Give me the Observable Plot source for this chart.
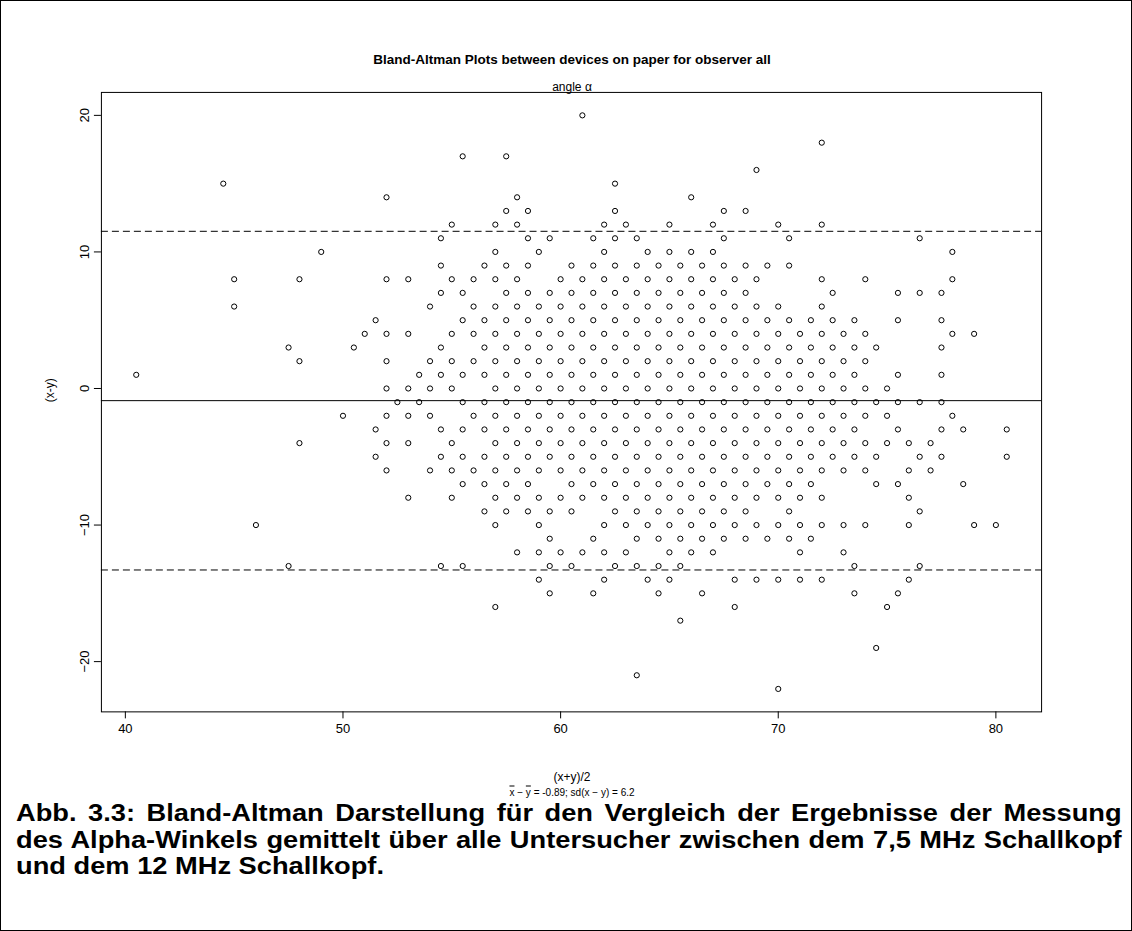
<!DOCTYPE html>
<html><head><meta charset="utf-8">
<script src="https://cdn.jsdelivr.net/npm/d3@7"></script>
<script src="https://cdn.jsdelivr.net/npm/@observablehq/plot@0.6"></script>
<style>
html,body{margin:0;padding:0;background:#fff;}
#page{position:relative;width:1132px;height:931px;box-sizing:border-box;border:1px solid #000;overflow:hidden;font-family:"Liberation Sans",Arial,sans-serif;color:#000;background:#fff;}
#chart{position:absolute;left:-1px;top:-1px;}
.t{position:absolute;white-space:nowrap;transform:translate(-50%,-50%);}
.cap{position:absolute;left:15px;width:933px;font-weight:bold;font-size:23px;line-height:26px;white-space:nowrap;transform:scaleX(1.185);transform-origin:0 0;}
.just{text-align:justify;text-align-last:justify;}
</style></head><body>
<div id="page">
 <div id="chart"></div>
 <div class="t" style="left:571px;top:58px;font-weight:bold;font-size:13.5px;">Bland-Altman Plots between devices on paper for observer all</div>
 <div class="t" style="left:571px;top:86px;font-size:12px;">angle &alpha;</div>
 <div class="t" style="left:571px;top:776px;font-size:12px;">(x+y)/2</div>
 <div class="t" style="left:571px;top:791px;font-size:10px;"><span style="text-decoration:overline">x</span> &minus; <span style="text-decoration:overline">y</span> = -0.89; sd(x &minus; y) = 6.2</div>
 <div class="cap just" style="top:799px;">Abb. 3.3: Bland-Altman Darstellung für den Vergleich der Ergebnisse der Messung</div>
 <div class="cap just" style="top:825.5px;">des Alpha-Winkels gemittelt über alle Untersucher zwischen dem 7,5 MHz Schallkopf</div>
 <div class="cap" style="top:852px;">und dem 12 MHz Schallkopf.</div>
</div>
<script>
// differences (x - y), one entry per row of points
const rowDiff = [20, 18, 17, 16, 15, 14, 13, 12, 11, 10, 9, 8, 7, 6, 5, 4, 3, 2, 1, 0,
  -1, -2, -3, -4, -5, -6, -7, -8, -9, -10, -11, -12, -13, -14, -15, -16, -17, -19, -21, -22];
// means (x + y)/2 of the points in each row
const rowMeans = [
  [61],
  [72],
  [55.5, 57.5],
  [69],
  [44.5, 62.5],
  [52, 58, 66],
  [57.5, 58.5, 62.5, 67.5, 68.5],
  [55, 57, 58, 62, 63, 65, 67, 70, 72],
  [54.5, 58.5, 59.5, 61.5, 62.5, 63.5, 67.5, 70.5, 76.5],
  [49, 57, 59, 62, 64, 65, 66, 67, 78],
  [54.5, 56.5, 57.5, 58.5, 60.5, 61.5, 62.5, 63.5, 64.5, 65.5, 66.5, 67.5, 68.5, 69.5, 70.5],
  [45, 48, 52, 53, 55, 56, 57, 58, 60, 61, 62, 63, 64, 65, 66, 67, 68, 69, 72, 74, 78],
  [54.5, 55.5, 57.5, 58.5, 59.5, 60.5, 61.5, 62.5, 63.5, 64.5, 65.5, 66.5, 67.5, 68.5, 72.5, 75.5, 76.5, 77.5],
  [45, 54, 56, 57, 58, 59, 60, 61, 62, 63, 64, 65, 66, 67, 68, 69, 70, 72],
  [51.5, 55.5, 56.5, 57.5, 58.5, 59.5, 60.5, 61.5, 62.5, 63.5, 64.5, 65.5, 66.5, 67.5, 68.5, 69.5, 70.5, 71.5, 72.5, 73.5, 75.5, 77.5],
  [51, 52, 53, 55, 56, 57, 58, 59, 60, 61, 62, 63, 64, 65, 66, 67, 68, 69, 70, 71, 72, 73, 74, 78, 79],
  [47.5, 50.5, 54.5, 56.5, 57.5, 58.5, 59.5, 60.5, 61.5, 62.5, 63.5, 64.5, 65.5, 66.5, 67.5, 68.5, 69.5, 70.5, 71.5, 72.5, 73.5, 74.5, 77.5],
  [48, 52, 54, 55, 56, 57, 58, 59, 60, 61, 62, 63, 64, 65, 66, 67, 68, 69, 70, 71, 72, 73, 74],
  [40.5, 53.5, 54.5, 55.5, 56.5, 57.5, 58.5, 59.5, 60.5, 61.5, 62.5, 63.5, 64.5, 65.5, 66.5, 67.5, 68.5, 69.5, 70.5, 71.5, 72.5, 73.5, 75.5, 77.5],
  [52, 53, 54, 55, 57, 58, 59, 60, 61, 62, 63, 64, 65, 66, 67, 68, 69, 70, 71, 72, 73, 74, 75],
  [52.5, 53.5, 55.5, 56.5, 57.5, 58.5, 59.5, 60.5, 61.5, 62.5, 63.5, 64.5, 65.5, 66.5, 67.5, 68.5, 69.5, 70.5, 71.5, 72.5, 73.5, 74.5, 75.5, 76.5, 77.5],
  [50, 52, 53, 54, 56, 57, 58, 59, 60, 61, 62, 63, 64, 65, 66, 67, 68, 69, 70, 71, 72, 73, 74, 75, 78],
  [51.5, 54.5, 55.5, 56.5, 57.5, 58.5, 59.5, 60.5, 61.5, 62.5, 63.5, 64.5, 65.5, 66.5, 67.5, 68.5, 69.5, 70.5, 71.5, 72.5, 73.5, 75.5, 77.5, 78.5, 80.5],
  [48, 52, 53, 55, 57, 58, 59, 60, 61, 62, 63, 64, 65, 66, 67, 68, 69, 70, 71, 72, 73, 74, 75, 76, 77],
  [51.5, 54.5, 55.5, 56.5, 57.5, 58.5, 59.5, 60.5, 61.5, 62.5, 63.5, 64.5, 65.5, 66.5, 67.5, 68.5, 69.5, 70.5, 71.5, 72.5, 73.5, 74.5, 76.5, 77.5, 80.5],
  [52, 54, 55, 56, 57, 58, 59, 60, 61, 62, 63, 64, 65, 66, 67, 68, 69, 70, 71, 72, 73, 74, 76, 77],
  [55.5, 56.5, 57.5, 58.5, 60.5, 61.5, 62.5, 63.5, 64.5, 65.5, 66.5, 67.5, 68.5, 69.5, 70.5, 71.5, 74.5, 75.5, 78.5],
  [53, 55, 57, 58, 59, 60, 61, 62, 63, 64, 65, 66, 67, 68, 69, 70, 71, 72, 76],
  [56.5, 57.5, 58.5, 59.5, 60.5, 62.5, 63.5, 64.5, 65.5, 66.5, 67.5, 68.5, 70.5, 76.5],
  [46, 57, 59, 62, 63, 64, 65, 66, 67, 68, 69, 70, 71, 72, 73, 74, 76, 79, 80],
  [59.5, 61.5, 63.5, 64.5, 65.5, 66.5, 67.5, 68.5, 69.5, 70.5, 71.5],
  [58, 59, 60, 61, 62, 63, 65, 66, 67, 71, 73],
  [47.5, 54.5, 55.5, 59.5, 60.5, 62.5, 63.5, 64.5, 65.5, 73.5, 76.5],
  [59, 62, 64, 65, 68, 69, 70, 71, 72, 76],
  [59.5, 61.5, 64.5, 66.5, 73.5, 75.5],
  [57, 68, 75],
  [65.5],
  [74.5],
  [63.5],
  [70]
];
const meanDiff = -0.89;
const sdDiff = 6.2;
const xTicks = [40, 50, 60, 70, 80];
const yTicks = [-20, -10, 0, 10, 20];

const points = rowDiff.flatMap((d, i) => rowMeans[i].map(m => ({m, d})));
const limits = [meanDiff + 2 * sdDiff, meanDiff - 2 * sdDiff];

const chart = Plot.plot({
  width: 1132,
  height: 760,
  marginLeft: 101,
  marginRight: 90,
  marginTop: 92,
  marginBottom: 48,
  x: {domain: [38.9, 82.1]},
  y: {domain: [-23.68, 21.68]},
  style: {fontFamily: "'Liberation Sans', Arial, sans-serif", fontSize: "13px", color: "black", background: "transparent"},
  marks: [
    Plot.frame({stroke: "black", strokeWidth: 1}),
    Plot.axisX({ticks: xTicks, tickSize: 7, tickPadding: 5, label: null, fontSize: 13}),
    Plot.axisY({ticks: yTicks, tickSize: 7, tickPadding: 5, tickRotate: -90, label: null, fontSize: 13}),
    Plot.text(["(x-y)"], {frameAnchor: "left", dx: -51, rotate: -90, fontSize: 12}),
    Plot.ruleY([meanDiff], {stroke: "black", strokeWidth: 1}),
    Plot.ruleY(limits, {stroke: "black", strokeWidth: 1, strokeDasharray: "7,4"}),
    Plot.dot(points, {x: "m", y: "d", r: 2.6, stroke: "black", strokeWidth: 1, fill: "none"})
  ]
});
document.getElementById("chart").appendChild(chart);
</script>
</body></html>
